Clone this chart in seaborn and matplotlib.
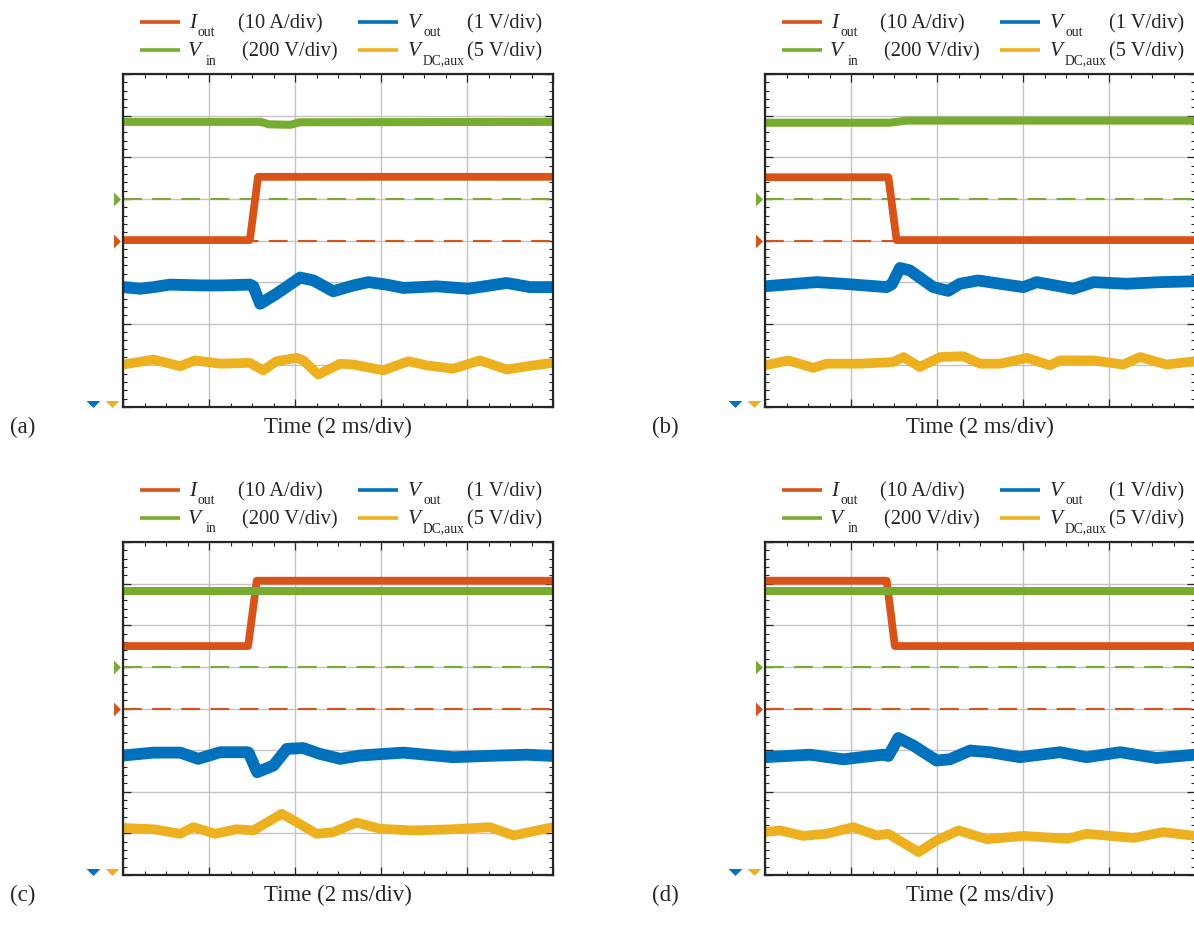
import matplotlib
matplotlib.use("Agg")
import matplotlib.pyplot as plt
import matplotlib.transforms as mtransforms
from matplotlib.lines import Line2D
from matplotlib.path import Path
from matplotlib.ticker import MultipleLocator
import seaborn as sns

# ---------------- data (time in ms, amplitude in screen divisions) ----------------
# panel (a): load step up
a_t_iout = [0.0, 2.95, 3.14, 10.0]
a_iout = [4.01, 4.01, 5.53, 5.53]
a_t_vin = [0.0, 3.2, 3.4, 3.9, 4.1, 10.0]
a_vin = [6.85, 6.85, 6.79, 6.78, 6.84, 6.85]
a_t_vout = [0.0, 0.40, 0.71, 1.09, 1.87, 2.26, 2.95, 3.03, 3.19, 3.57, 4.12, 4.43, 4.89,
            5.36, 5.71, 6.13, 6.52, 7.29, 8.03, 8.92, 9.47, 10.0]
a_vout = [2.88, 2.84, 2.88, 2.94, 2.92, 2.92, 2.94, 2.90, 2.48, 2.72, 3.11, 3.04, 2.78,
          2.92, 3.00, 2.94, 2.86, 2.90, 2.84, 2.98, 2.88, 2.88]
a_t_vdc = [0.0, 0.71, 1.33, 1.67, 2.26, 2.95, 3.26, 3.57, 4.04, 4.19, 4.54, 5.05, 5.36,
           6.05, 6.64, 7.06, 7.68, 8.30, 8.92, 9.54, 10.0]
a_vdc = [1.02, 1.14, 0.98, 1.12, 1.04, 1.06, 0.88, 1.10, 1.18, 1.12, 0.78, 1.04, 1.02,
         0.88, 1.10, 1.00, 0.92, 1.12, 0.90, 1.00, 1.06]

# panel (b): load step down
b_t_iout = [0.0, 2.87, 3.06, 10.0]
b_iout = [5.52, 5.52, 4.01, 4.01]
b_t_vin = [0.0, 2.9, 3.3, 10.0]
b_vin = [6.83, 6.83, 6.88, 6.88]
b_t_vout = [0.0, 1.20, 1.82, 2.83, 2.95, 3.14, 3.37, 3.91, 4.26, 4.53, 4.96, 5.47, 6.01,
            6.32, 7.17, 7.64, 8.41, 9.19, 10.0]
b_vout = [2.90, 3.00, 2.96, 2.88, 2.95, 3.34, 3.28, 2.88, 2.79, 2.96, 3.04, 2.96, 2.88,
          3.00, 2.84, 3.00, 2.96, 3.00, 3.02]
b_t_vdc = [0.0, 0.54, 1.12, 1.43, 2.21, 2.98, 3.22, 3.60, 4.07, 4.61, 5.00, 5.47, 6.09,
           6.63, 6.86, 7.64, 8.33, 8.72, 9.34, 10.0]
b_vdc = [1.00, 1.12, 0.94, 1.04, 1.04, 1.08, 1.20, 0.96, 1.20, 1.22, 1.04, 1.04, 1.18,
         1.00, 1.12, 1.12, 1.02, 1.20, 1.02, 1.10]

# panel (c): load step up (higher load)
c_t_iout = [0.0, 2.91, 3.11, 10.0]
c_iout = [5.50, 5.50, 7.07, 7.07]
c_t_vin = [0.0, 10.0]
c_vin = [6.83, 6.83]
c_t_vout = [0.0, 0.71, 1.33, 1.75, 2.26, 2.88, 2.92, 3.12, 3.50, 3.81, 4.19, 4.58, 5.05,
            5.51, 6.52, 7.68, 8.46, 9.39, 10.0]
c_vout = [2.87, 2.94, 2.94, 2.79, 2.95, 2.95, 2.94, 2.47, 2.63, 3.03, 3.05, 2.91, 2.79,
          2.87, 2.94, 2.83, 2.86, 2.89, 2.86]
c_t_vdc = [0.0, 0.71, 1.33, 1.64, 2.14, 2.64, 3.03, 3.69, 4.04, 4.50, 4.89, 5.43, 5.98,
           6.75, 7.68, 8.53, 9.08, 10.0]
c_vdc = [1.13, 1.10, 0.99, 1.15, 0.99, 1.10, 1.07, 1.47, 1.27, 0.99, 1.03, 1.26, 1.11,
         1.07, 1.10, 1.15, 0.95, 1.15]

# panel (d): load step down (higher load)
d_t_iout = [0.0, 2.83, 3.02, 10.0]
d_iout = [7.07, 7.07, 5.50, 5.50]
d_t_vin = [0.0, 10.0]
d_vin = [6.83, 6.83]
d_t_vout = [0.0, 1.05, 1.82, 2.75, 2.87, 3.10, 3.45, 3.99, 4.30, 4.77, 5.23, 5.93, 6.86,
            7.48, 8.26, 9.11, 10.0]
d_vout = [2.83, 2.89, 2.78, 2.89, 2.86, 3.29, 3.11, 2.75, 2.78, 2.99, 2.95, 2.83, 2.95,
          2.83, 2.95, 2.81, 2.89]
d_t_vdc = [0.0, 0.35, 0.89, 1.43, 2.05, 2.60, 2.87, 3.57, 3.99, 4.50, 5.16, 6.01, 7.02,
           7.48, 8.02, 8.57, 9.26, 10.0]
d_vdc = [1.03, 1.07, 0.94, 0.99, 1.15, 0.95, 0.99, 0.55, 0.83, 1.07, 0.86, 0.94, 0.87,
         0.99, 0.94, 0.89, 1.03, 0.94]

# reference (offset) levels in divisions
ref_vin = 5.0
ref_iout = 4.0

panel_names = ["(a)", "(b)", "(c)", "(d)"]
legend_names = ["I", "V", "V", "V"]
legend_subs = ["out", "out", "in", "DC,aux"]
legend_units = ["(10 A/div)", "(1 V/div)", "(200 V/div)", "(5 V/div)"]
xlabel_text = "Time (2 ms/div)"

panels = [
    (a_t_iout, a_iout, a_t_vin, a_vin, a_t_vout, a_vout, a_t_vdc, a_vdc),
    (b_t_iout, b_iout, b_t_vin, b_vin, b_t_vout, b_vout, b_t_vdc, b_vdc),
    (c_t_iout, c_iout, c_t_vin, c_vin, c_t_vout, c_vout, c_t_vdc, c_vdc),
    (d_t_iout, d_iout, d_t_vin, d_vin, d_t_vout, d_vout, d_t_vdc, d_vdc),
]

# ---------------- style ----------------
C_I = "#D95319"
C_VO = "#0072BD"
C_VI = "#77AC30"
C_VD = "#EDB120"
TXT = "#262626"

sns.set_theme(style="white")
plt.rcParams["font.family"] = ["Liberation Serif", "DejaVu Serif"]

W, H = 1194, 928
AXW, AXH = 430, 333
origins = [(123, 75), (765, 75), (123, 543), (765, 543)]

fig = plt.figure(figsize=(W / 100, H / 100), dpi=100)

tri_right = Path([(-0.25, 0.5), (0.25, 0.0), (-0.25, -0.5), (-0.25, 0.5)],
                 [Path.MOVETO, Path.LINETO, Path.LINETO, Path.CLOSEPOLY])
tri_down = Path([(-0.5, 0.25), (0.5, 0.25), (0.0, -0.25), (-0.5, 0.25)],
                [Path.MOVETO, Path.LINETO, Path.LINETO, Path.CLOSEPOLY])


def fx(px):
    # panel-(a) pixel x -> axes fraction
    return (px - 123) / AXW


def fy(py):
    # panel-(a) pixel y -> axes fraction
    return (408 - py) / AXH


FS_LEG = 14.8
FS_SUB = 9.8
FS_BIG = 16.5

for k, (ox, oy) in enumerate(origins):
    ax = fig.add_axes([ox / W, 1 - (oy + AXH) / H, AXW / W, AXH / H])
    t_i, v_i, t_vi, v_vi, t_vo, v_vo, t_vd, v_vd = panels[k]

    # traces
    sns.lineplot(x=t_i, y=v_i, ax=ax, color=C_I, linewidth=5.6, zorder=2.1)
    sns.lineplot(x=t_vi, y=v_vi, ax=ax, color=C_VI, linewidth=5.8, zorder=2.2)
    sns.lineplot(x=t_vo, y=v_vo, ax=ax, color=C_VO, linewidth=8.5, zorder=2.3)
    sns.lineplot(x=t_vd, y=v_vd, ax=ax, color=C_VD, linewidth=7.0, zorder=2.4)

    ax.set_xlim(0, 10)
    ax.set_ylim(0, 8)
    ax.xaxis.set_major_locator(MultipleLocator(2))
    ax.xaxis.set_minor_locator(MultipleLocator(0.5))
    ax.yaxis.set_major_locator(MultipleLocator(1))
    ax.yaxis.set_minor_locator(MultipleLocator(0.2))
    ax.set_axisbelow(True)
    ax.grid(which="major", color="#c4c4c4", linewidth=1.0)
    ax.tick_params(which="both", direction="in", top=True, right=True, bottom=True, left=True,
                   labelbottom=False, labelleft=False, color=TXT)
    ax.tick_params(which="major", length=5.5, width=0.9)
    ax.tick_params(which="minor", length=3.2, width=0.8)
    for sp in ax.spines.values():
        sp.set_color(TXT)
        sp.set_linewidth(1.6)
        sp.set_visible(True)
    ax.set_xlabel("")
    ax.set_ylabel("")

    # reference (offset) dashed lines
    ax.axhline(ref_vin, color=C_VI, lw=1.5, ls=(0, (9, 5)), zorder=2.0)
    ax.axhline(ref_iout, color=C_I, lw=1.5, ls=(0, (9, 5)), zorder=2.0)

    # offset markers outside the axes
    blend = mtransforms.blended_transform_factory(ax.transAxes, ax.transData)
    ax.plot([fx(117)], [ref_vin], marker=tri_right, ms=10, mew=0, color=C_VI,
            transform=blend, clip_on=False, ls="none")
    ax.plot([fx(117)], [ref_iout], marker=tri_right, ms=10, mew=0, color=C_I,
            transform=blend, clip_on=False, ls="none")
    ax.plot([fx(93)], [0.07], marker=tri_down, ms=10, mew=0, color=C_VO,
            transform=blend, clip_on=False, ls="none")
    ax.plot([fx(112)], [0.07], marker=tri_down, ms=10, mew=0, color=C_VD,
            transform=blend, clip_on=False, ls="none")

    # legend (drawn above the axes)
    colors = [C_I, C_VO, C_VI, C_VD]
    hx = [(140, 180), (358, 398), (140, 180), (358, 398)]
    hy = [22.5, 22.5, 50.5, 50.5]
    name_x = [189, 408, 188, 408]
    sub_x = [198, 423, 206, 423]
    base_y = [28, 28, 56, 56]
    unit_x = [238, 467, 242, 467]
    for j in range(4):
        ax.add_line(Line2D([fx(hx[j][0]), fx(hx[j][1])], [fy(hy[j]), fy(hy[j])],
                           transform=ax.transAxes, color=colors[j], lw=2.6,
                           clip_on=False, solid_capstyle="butt"))
        ax.text(fx(name_x[j]), fy(base_y[j]), legend_names[j], transform=ax.transAxes,
                fontsize=FS_LEG + 0.6, style="italic", va="baseline", ha="left", color=TXT)
        ax.text(fx(sub_x[j]), fy(base_y[j] + 8.5), legend_subs[j], transform=ax.transAxes,
                fontsize=FS_SUB, va="baseline", ha="left", color=TXT)
        ax.text(fx(unit_x[j]), fy(base_y[j]), legend_units[j], transform=ax.transAxes,
                fontsize=FS_LEG, va="baseline", ha="left", color=TXT)

    # x label
    ax.text(0.5, fy(433), xlabel_text, transform=ax.transAxes, fontsize=FS_BIG,
            color=TXT, va="baseline", ha="center")

    fig.text((10 + (ox - 123)) / W, 1 - (433 + (oy - 75)) / H, panel_names[k],
             fontsize=FS_BIG, va="baseline", ha="left", color=TXT)

fig.savefig("out.png", dpi=100)
